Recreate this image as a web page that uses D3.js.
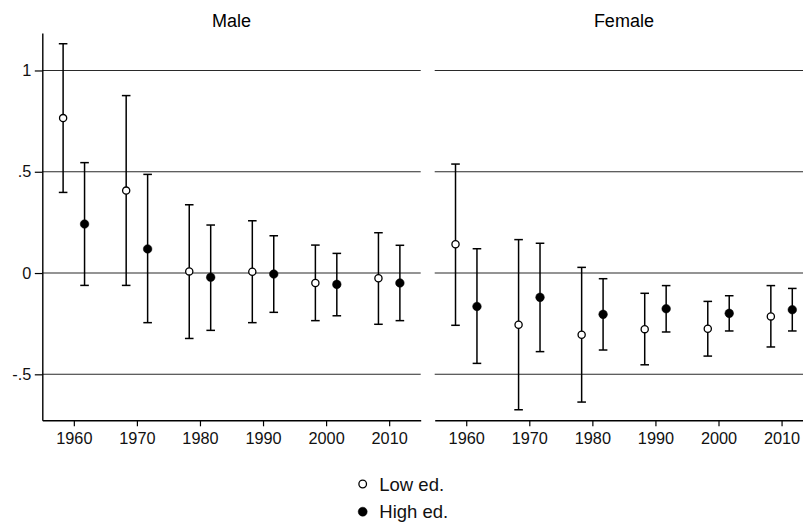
<!DOCTYPE html>
<html>
<head>
<meta charset="utf-8">
<script src="https://cdn.jsdelivr.net/npm/d3@7"></script>
<style>
  body { margin: 0; background: #fff; }
  svg { display: block; font-family: "Liberation Sans", Arial, Helvetica, sans-serif; }
</style>
</head>
<body>
<svg id="chart" width="803" height="527" viewBox="0 0 803 527"></svg>
<script>
// cohorts (decade) shown on the x axis
const cohorts = [1960, 1970, 1980, 1990, 2000, 2010];
const yTicks = [-0.5, 0, 0.5, 1];
const panelTitles = ["Male", "Female"];
const seriesNames = ["Low ed.", "High ed."];

// Male, low education: estimate, lower CI, upper CI
const maleLowEst = [0.765, 0.407, 0.008, 0.006, -0.049, -0.026];
const maleLowLo  = [0.398, -0.061, -0.323, -0.245, -0.235, -0.253];
const maleLowHi  = [1.132, 0.876, 0.337, 0.258, 0.138, 0.199];
// Male, high education
const maleHighEst = [0.242, 0.119, -0.021, -0.005, -0.056, -0.049];
const maleHighLo  = [-0.061, -0.245, -0.283, -0.194, -0.211, -0.235];
const maleHighHi  = [0.545, 0.487, 0.237, 0.184, 0.097, 0.137];
// Female, low education
const femaleLowEst = [0.142, -0.255, -0.305, -0.277, -0.275, -0.214];
const femaleLowLo  = [-0.258, -0.675, -0.637, -0.453, -0.41, -0.365];
const femaleLowHi  = [0.538, 0.165, 0.028, -0.1, -0.14, -0.062];
// Female, high education
const femaleHighEst = [-0.165, -0.12, -0.204, -0.176, -0.199, -0.181];
const femaleHighLo  = [-0.446, -0.388, -0.38, -0.291, -0.286, -0.286];
const femaleHighHi  = [0.12, 0.147, -0.028, -0.062, -0.112, -0.076];

const FONT = "'Liberation Sans', Arial, Helvetica, sans-serif";
const svg = d3.select("#chart");

const plotTop = 33, plotBottom = 420.3;
const panelWidth = 378.4;
const panelLefts = [42.3, 434.7];
const offset = 1.7; // horizontal dodge of the two series within a cohort

const y = d3.scaleLinear().domain([-0.727, 1.185]).range([plotBottom, plotTop]);
const fmt = d => String(d).replace("0.", ".");

const panels = [
    { low: [maleLowEst, maleLowLo, maleLowHi], high: [maleHighEst, maleHighLo, maleHighHi] },
    { low: [femaleLowEst, femaleLowLo, femaleLowHi], high: [femaleHighEst, femaleHighLo, femaleHighHi] }
];

panels.forEach((p, pi) => {
    const x0 = panelLefts[pi];
    const x = d3.scaleLinear().domain([1955, 2015]).range([x0, x0 + panelWidth]);
    const g = svg.append("g");

    // horizontal grid lines
    g.append("g")
        .selectAll("line")
        .data(yTicks)
        .enter()
        .append("line")
        .attr("x1", x0)
        .attr("x2", x0 + panelWidth)
        .attr("y1", d => y(d))
        .attr("y2", d => y(d))
        .style("stroke", "#2a2a2a")
        .style("stroke-width", 1.1);

    // title
    g.append("text")
        .attr("x", x0 + panelWidth / 2)
        .attr("y", 26.5)
        .attr("text-anchor", "middle")
        .style("font-family", FONT)
        .style("font-size", "18px")
        .text(panelTitles[pi]);

    // x axis
    const xAxis = g.append("g")
        .attr("transform", `translate(0,${plotBottom})`)
        .call(d3.axisBottom(x).tickValues(cohorts).tickFormat(d3.format("d"))
            .tickSize(6).tickSizeOuter(0).tickPadding(6));
    xAxis.attr("font-family", null).attr("font-size", null);
    xAxis.select(".domain").style("stroke", "#000").style("stroke-width", 1.4);
    xAxis.selectAll(".tick line").style("stroke", "#000").style("stroke-width", 1.2);
    xAxis.selectAll("text").style("font-size", "16.3px").style("font-family", FONT).attr("fill", "#111");

    // y axis only on first panel
    if (pi === 0) {
        const yAxis = g.append("g")
            .attr("transform", `translate(${x0},0)`)
            .call(d3.axisLeft(y).tickValues(yTicks).tickFormat(fmt)
                .tickSize(7.5).tickSizeOuter(0).tickPadding(3.5));
        yAxis.attr("font-family", null).attr("font-size", null);
        yAxis.select(".domain").style("stroke", "#000").style("stroke-width", 1.4);
        yAxis.selectAll(".tick line").style("stroke", "#000").style("stroke-width", 1.2);
        yAxis.selectAll("text").style("font-size", "16.3px").style("font-family", FONT).attr("fill", "#111");
    }

    [["low", -offset, false], ["high", offset, true]].forEach(([key, dx, filled]) => {
        const [est, lo, hi] = p[key];
        const rows = cohorts.map((c, i) => ({ c: c, est: est[i], lo: lo[i], hi: hi[i] }));
        const sg = g.append("g");

        sg.selectAll(".bar")
            .data(rows)
            .enter()
            .append("line")
            .attr("x1", d => x(d.c + dx))
            .attr("x2", d => x(d.c + dx))
            .attr("y1", d => y(d.lo))
            .attr("y2", d => y(d.hi))
            .style("stroke", "#000")
            .style("stroke-width", 1.5);

        ["lo", "hi"].forEach(k => {
            sg.selectAll(".cap-" + k)
                .data(rows)
                .enter()
                .append("line")
                .attr("x1", d => x(d.c + dx) - 4.3)
                .attr("x2", d => x(d.c + dx) + 4.3)
                .attr("y1", d => y(d[k]))
                .attr("y2", d => y(d[k]))
                .style("stroke", "#000")
                .style("stroke-width", 1.5);
        });

        sg.selectAll("circle")
            .data(rows)
            .enter()
            .append("circle")
            .attr("cx", d => x(d.c + dx))
            .attr("cy", d => y(d.est))
            .attr("r", filled ? 4.3 : 3.6)
            .attr("fill", filled ? "#000" : "#fff")
            .attr("stroke", "#000")
            .attr("stroke-width", filled ? 0.5 : 1.3);
    });
});

// legend
const legend = svg.append("g").attr("transform", "translate(362.7, 484)");
seriesNames.forEach((name, i) => {
    const item = legend.append("g").attr("transform", `translate(0, ${i * 27.7})`);
    item.append("circle")
        .attr("r", i === 0 ? 3.8 : 4.5)
        .attr("fill", i === 0 ? "#fff" : "#000")
        .attr("stroke", "#000")
        .attr("stroke-width", i === 0 ? 1.3 : 0.5);
    item.append("text")
        .attr("x", 16.6)
        .attr("y", 6.6)
        .style("font-family", FONT)
        .style("font-size", "18.5px")
        .attr("fill", "#111")
        .text(name);
});
</script>
</body>
</html>
